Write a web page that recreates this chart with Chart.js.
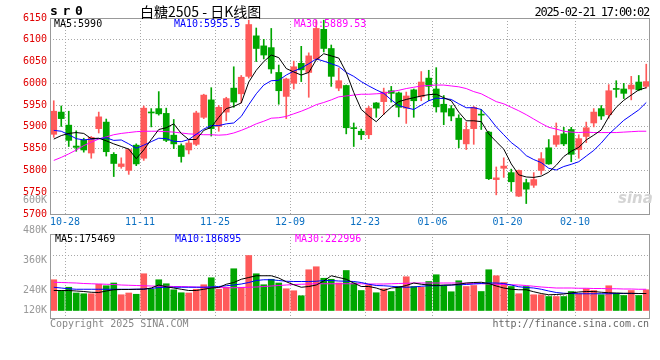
<!DOCTYPE html>
<html>
<head>
<meta charset="utf-8">
<script src="https://cdn.jsdelivr.net/npm/chart.js@4.4.1/dist/chart.umd.min.js"></script>
<style>
  body { margin: 0; background: #fff; }
  #wrap { position: relative; width: 660px; height: 360px; overflow: hidden; font-family: "DejaVu Sans Mono", monospace; font-size: 10px; }
  #wrap canvas { position: absolute; left: 0; }
  .t { position: absolute; white-space: pre; line-height: 12px; }
</style>
</head>
<body>
<div id="wrap">
  <canvas id="priceChart" width="660" height="230" style="top:0"></canvas>
  <canvas id="volChart" width="660" height="170" style="top:190px"></canvas>
</div>
<script>
// trading days shown (10-24 .. 02-21)
const dates = [
  "10-24","10-25","10-28","10-29","10-30","10-31","11-01","11-04","11-05","11-06",
  "11-07","11-08","11-11","11-12","11-13","11-14","11-15","11-18","11-19","11-20",
  "11-21","11-22","11-25","11-26","11-27","11-28","11-29","12-02","12-03","12-04",
  "12-05","12-06","12-09","12-10","12-11","12-12","12-13","12-16","12-17","12-18",
  "12-19","12-20","12-23","12-24","12-25","12-26","12-27","12-30","12-31","01-02",
  "01-03","01-06","01-07","01-08","01-09","01-10","01-13","01-14","01-15","01-16",
  "01-17","01-20","01-21","01-22","01-23","01-24","01-27","02-05","02-06","02-07",
  "02-10","02-11","02-12","02-13","02-14","02-17","02-18","02-19","02-20","02-21"
];
const tickDates = ["10-28","11-11","11-25","12-09","12-23","01-06","01-20","02-10"];

const openP = [
  5883,5934,5904,5856,5870,5840,5896,5911,5837,5809,
  5800,5858,5828,5933,5942,5931,5881,5857,5847,5860,
  5922,5962,5901,5934,5989,5976,6016,6109,6086,6082,
  6025,5970,6000,6046,6025,6056,6124,6080,5989,5995,
  5898,5890,5882,5955,5958,5983,5978,5943,5985,5969,
  6012,5987,5952,5942,5920,5861,5896,5929,5888,5779,
  5805,5795,5741,5772,5766,5800,5852,5860,5884,5894,
  5848,5878,5909,5942,5928,5988,5987,5987,6003,5993
];
const highP = [
  5960,5948,5936,5891,5874,5878,5934,5918,5841,5829,
  5849,5861,5948,5942,5981,5943,5917,5861,5869,5936,
  5975,5990,5949,5968,6038,6018,6145,6127,6101,6126,
  6042,6012,6051,6085,6070,6145,6145,6088,6035,5996,
  5909,5895,5947,5956,5989,5993,5980,5980,5987,6027,
  6030,6036,5972,5949,5928,5911,5947,5940,5890,5808,
  5829,5803,5801,5780,5795,5841,5871,5909,5899,5899,
  5882,5911,5942,5949,5997,6006,6000,6016,6018,6044
];
const lowP = [
  5876,5901,5855,5844,5842,5828,5886,5833,5786,5805,
  5791,5811,5823,5900,5927,5866,5850,5819,5838,5857,
  5919,5879,5890,5914,5945,5955,6012,6050,6056,6023,
  5952,5919,5987,6004,5968,6054,6072,5993,5983,5884,
  5855,5871,5873,5922,5928,5957,5923,5908,5922,5960,
  5960,5934,5905,5914,5852,5848,5860,5894,5779,5744,
  5784,5752,5740,5724,5761,5791,5814,5855,5857,5820,
  5828,5864,5900,5917,5920,5968,5965,5962,5983,5989
];
const closeP = [
  5936,5919,5869,5853,5847,5876,5923,5843,5816,5815,
  5848,5815,5943,5932,5930,5869,5861,5832,5863,5932,
  5973,5896,5945,5965,5957,6014,6135,6080,6065,6033,
  5983,6010,6038,6031,6063,6126,6080,6016,6006,5898,
  5896,5882,5943,5943,5980,5977,5945,5971,5960,6003,
  5993,5946,5934,5925,5871,5894,5945,5927,5781,5783,
  5810,5774,5800,5757,5779,5827,5815,5880,5861,5837,
  5873,5898,5934,5925,5983,5986,5977,5996,5985,6004
];

const ma5 = [
  5872,5880,5885,5887,5885,5873,5874,5868,5861,5855,
  5849,5827,5847,5871,5894,5898,5907,5885,5871,5871,
  5892,5899,5922,5942,5947,5955,6003,6030,6050,6065,
  6059,6034,6026,6019,6025,6054,6068,6063,6058,6025,
  5979,5940,5925,5912,5929,5945,5958,5963,5967,5971,
  5974,5975,5967,5960,5934,5914,5914,5912,5884,5866,
  5849,5815,5790,5785,5784,5787,5796,5812,5832,5844,
  5853,5870,5881,5893,5923,5945,5961,5973,5985,5990
];
const ma10 = [
  5892,5890,5882,5873,5870,5872,5873,5875,5869,5870,
  5861,5851,5858,5866,5874,5873,5867,5866,5871,5883,
  5895,5903,5903,5907,5909,5924,5951,5976,5996,6006,
  6007,6019,6028,6035,6045,6056,6051,6045,6039,6025,
  6016,6004,5994,5985,5977,5962,5949,5944,5940,5950,
  5960,5966,5965,5963,5953,5944,5944,5940,5922,5900,
  5882,5864,5851,5834,5825,5818,5805,5801,5809,5814,
  5820,5833,5846,5863,5883,5899,5915,5927,5939,5956
];
const ma30 = [
  5823,5830,5838,5847,5857,5865,5872,5877,5882,5885,
  5887,5889,5890,5890,5890,5889,5888,5886,5884,5883,
  5882,5882,5881,5882,5886,5892,5899,5907,5913,5920,
  5921,5924,5930,5936,5943,5951,5956,5962,5969,5971,
  5973,5975,5975,5976,5977,5981,5984,5988,5991,5994,
  5995,5996,5996,5994,5992,5988,5981,5976,5967,5958,
  5953,5945,5937,5928,5918,5908,5899,5895,5890,5888,
  5887,5888,5887,5887,5887,5887,5888,5889,5890,5890
];

// volume, read against the panel's own K labels
const volBase = 160000;
const volume = [
  283000,240000,253000,230000,227000,227000,265000,259000,270000,223000,
  230000,225000,307000,245000,283000,267000,243000,231000,230000,245000,
  263000,291000,245000,253000,327000,253000,380000,307000,263000,285000,
  270000,247000,239000,219000,323000,335000,289000,285000,270000,320000,
  270000,240000,263000,231000,247000,236000,256000,295000,256000,253000,
  276000,303000,259000,235000,279000,256000,260000,236000,323000,299000,
  272000,256000,227000,256000,223000,223000,216000,216000,216000,236000,
  227000,247000,240000,223000,259000,229000,220000,240000,220000,243000
];
const vma5 = [
  240000,240000,240000,238000,236000,233000,232000,238000,243000,244000,
  244000,245000,245000,250000,262000,255000,250000,245000,240000,240000,
  245000,250000,252000,265000,272000,285000,292000,299000,299000,299000,
  290000,275000,263000,253000,256000,262000,278000,299000,292000,285000,
  270000,256000,256000,250000,240000,250000,253000,260000,270000,265000,
  262000,260000,262000,262000,265000,270000,272000,273000,268000,258000,
  250000,245000,243000,243000,235000,228000,223000,224000,226000,230000,
  234000,236000,236000,233000,231000,230000,229000,229000,228000,228000
];
const vma10 = [
  253000,250000,247000,245000,245000,245000,245000,245000,245000,245000,
  245000,245000,246000,248000,252000,253000,253000,253000,253000,253000,
  253000,254000,256000,259000,262000,266000,272000,280000,283000,283000,
  280000,277000,276000,276000,276000,277000,280000,280000,278000,277000,
  276000,272000,265000,260000,259000,257000,254000,253000,254000,257000,
  259000,259000,260000,262000,263000,264000,266000,268000,270000,270000,
  268000,262000,255000,252000,250000,245000,238000,232000,229000,228000,
  227000,227000,227000,227000,227000,228000,228000,228000,228000,228000
];
const vma30 = [
  273000,272000,271000,270000,268000,267000,266000,265000,264000,262000,
  261000,260000,259000,258000,257000,257000,256000,256000,255000,254000,
  253000,253000,252000,251000,251000,252000,253000,254000,256000,258000,
  260000,262000,264000,265000,266000,267000,267000,267000,267000,267000,
  267000,267000,266000,266000,266000,267000,268000,269000,270000,270000,
  270000,270000,270000,270000,270000,269000,268000,267000,266000,265000,
  264000,263000,262000,260000,257000,254000,252000,250000,250000,250000,
  249000,249000,248000,248000,247000,247000,246000,246000,245000,245000
];
const volLabelValues = [600000, 480000, 360000, 240000, 120000];
const volGridValues = [219000, 299000, 379000];

const upColor = "#ff5a5a";
const downColor = "#00a600";
const gridColor = "#a8a8a8";
const candleColor = closeP.map((c, i) => c >= openP[i] ? upColor : downColor);
const monoFont = { family: "DejaVu Sans Mono", size: 10 };

// grey frame round each panel
const panelFrame = {
  id: "panelFrame",
  afterDraw(chart) {
    const { ctx, chartArea: a } = chart;
    ctx.save();
    ctx.strokeStyle = "#999";
    ctx.lineWidth = 1;
    ctx.strokeRect(a.left + 0.5, a.top + 0.5, a.right - a.left - 1, a.bottom - a.top);
    ctx.restore();
  }
};

// sina draws its volume labels on a looser grid than the dotted lines
const volLabels = {
  id: "volLabels",
  afterDraw(chart) {
    const { ctx } = chart;
    const s = chart.scales.y;
    const lowest = s.getPixelForValue(volBase);
    ctx.save();
    ctx.font = "10px 'DejaVu Sans Mono'";
    ctx.fillStyle = "#999";
    ctx.textAlign = "right";
    ctx.textBaseline = "middle";
    volLabelValues.forEach(v => {
      const y = Math.min(s.getPixelForValue(v), lowest);
      ctx.fillText(v / 1000 + "K", 47, y);
    });
    ctx.restore();
  }
};

function lineSet(data, color) {
  return { type: "line", data, borderColor: color, borderWidth: 1, pointRadius: 0, fill: false, order: 0 };
}

const xGrid = {
  offset: true,
  drawTicks: false,
  color: ctx => tickDates.includes(dates[ctx.index]) ? gridColor : "transparent"
};

new Chart(document.getElementById("priceChart"), {
  type: "bar",
  data: {
    labels: dates,
    datasets: [
      lineSet(ma5, "#000"),
      lineSet(ma10, "#0000ff"),
      lineSet(ma30, "#ff00ff"),
      {
        data: openP.map((o, i) => [o, closeP[i]]),
        backgroundColor: candleColor, barThickness: 6, minBarLength: 1, grouped: false, order: 1
      },
      {
        data: lowP.map((l, i) => [l, highP[i]]),
        backgroundColor: candleColor, barThickness: 1, grouped: false, order: 2
      }
    ]
  },
  options: {
    responsive: false,
    animation: false,
    layout: { padding: { top: 18, right: 10, left: 0, bottom: 0 } },
    plugins: { legend: { display: false }, tooltip: { enabled: false } },
    scales: {
      x: {
        grid: xGrid,
        border: { display: false, dash: [1, 2] },
        ticks: {
          autoSkip: false, maxRotation: 0, color: "#0a6fc2", font: monoFont,
          padding: 2, labelOffset: -3.75,
          callback: (v, i) => tickDates.includes(dates[i]) ? dates[i] : ""
        },
        afterFit: s => { s.height = 16; }
      },
      y: {
        min: 5700, max: 6150,
        ticks: { stepSize: 50, color: "#e00000", font: monoFont, padding: 3, callback: v => String(v) },
        grid: { color: gridColor, drawTicks: false },
        border: { display: false, dash: [1, 2] },
        afterFit: s => { s.width = 50; }
      }
    }
  },
  plugins: [panelFrame]
});

new Chart(document.getElementById("volChart"), {
  type: "bar",
  data: {
    labels: dates,
    datasets: [
      lineSet(vma5, "#000"),
      lineSet(vma10, "#0000ff"),
      lineSet(vma30, "#ff00ff"),
      {
        data: volume.map(v => [volBase, v]),
        backgroundColor: candleColor, barThickness: 6, grouped: false, order: 1
      }
    ]
  },
  options: {
    responsive: false,
    animation: false,
    layout: { padding: { top: 44, right: 10, left: 0, bottom: 0 } },
    plugins: { legend: { display: false }, tooltip: { enabled: false } },
    scales: {
      x: {
        grid: xGrid,
        border: { display: false, dash: [1, 2] },
        ticks: { display: false },
        afterFit: s => { s.height = 42; }
      },
      y: {
        min: 130000, max: 466000,
        afterBuildTicks: s => { s.ticks = volGridValues.map(v => ({ value: v })); },
        ticks: { display: false },
        grid: { color: gridColor, drawTicks: false },
        border: { display: false, dash: [1, 2] },
        afterFit: s => { s.width = 50; }
      }
    }
  },
  plugins: [panelFrame, volLabels]
});

// header, legends and footer texts
const wrap = document.getElementById("wrap");
function addText(text, x, yMid, color, opts = {}) {
  const el = document.createElement("div");
  el.className = "t";
  el.textContent = text;
  el.style.color = color;
  if (opts.font) el.style.font = opts.font;
  if (opts.spacing) el.style.letterSpacing = opts.spacing;
  const lh = opts.lh || 12;
  el.style.lineHeight = lh + "px";
  el.style.top = (yMid - lh / 2) + "px";
  if (opts.right) el.style.right = (660 - x) + "px";
  else el.style.left = x + "px";
  wrap.appendChild(el);
}
addText("s r 0", 50, 11, "#000", { font: "bold 13px 'DejaVu Sans Mono'", spacing: "-1.6px", lh: 14 });
addText("白糖2505 - 日K线图", 140, 10.5, "#000", { font: "14px 'Noto Sans CJK SC'", lh: 16 });
addText("2025-02-21 17:00:02", 649, 12, "#000", { font: "12px 'DejaVu Sans Mono'", spacing: "-1.2px", right: true });
addText("MA5:5990", 54, 23.5, "#000");
addText("MA10:5955.5", 174, 23.5, "#0000ff");
addText("MA30:5889.53", 294, 23.5, "#ff00ff");
addText("MA5:175469", 55, 238.5, "#000");
addText("MA10:186895", 175, 238.5, "#0000ff");
addText("MA30:222996", 295, 238.5, "#ff00ff");
addText("Copyright 2025 SINA.COM", 50, 324, "#888");
addText("http://finance.sina.com.cn", 649, 324, "#666", { right: true });
addText("sina", 618, 198, "#d4d4d4", { font: "italic bold 15px 'DejaVu Sans'", lh: 16 });
</script>
</body>
</html>
